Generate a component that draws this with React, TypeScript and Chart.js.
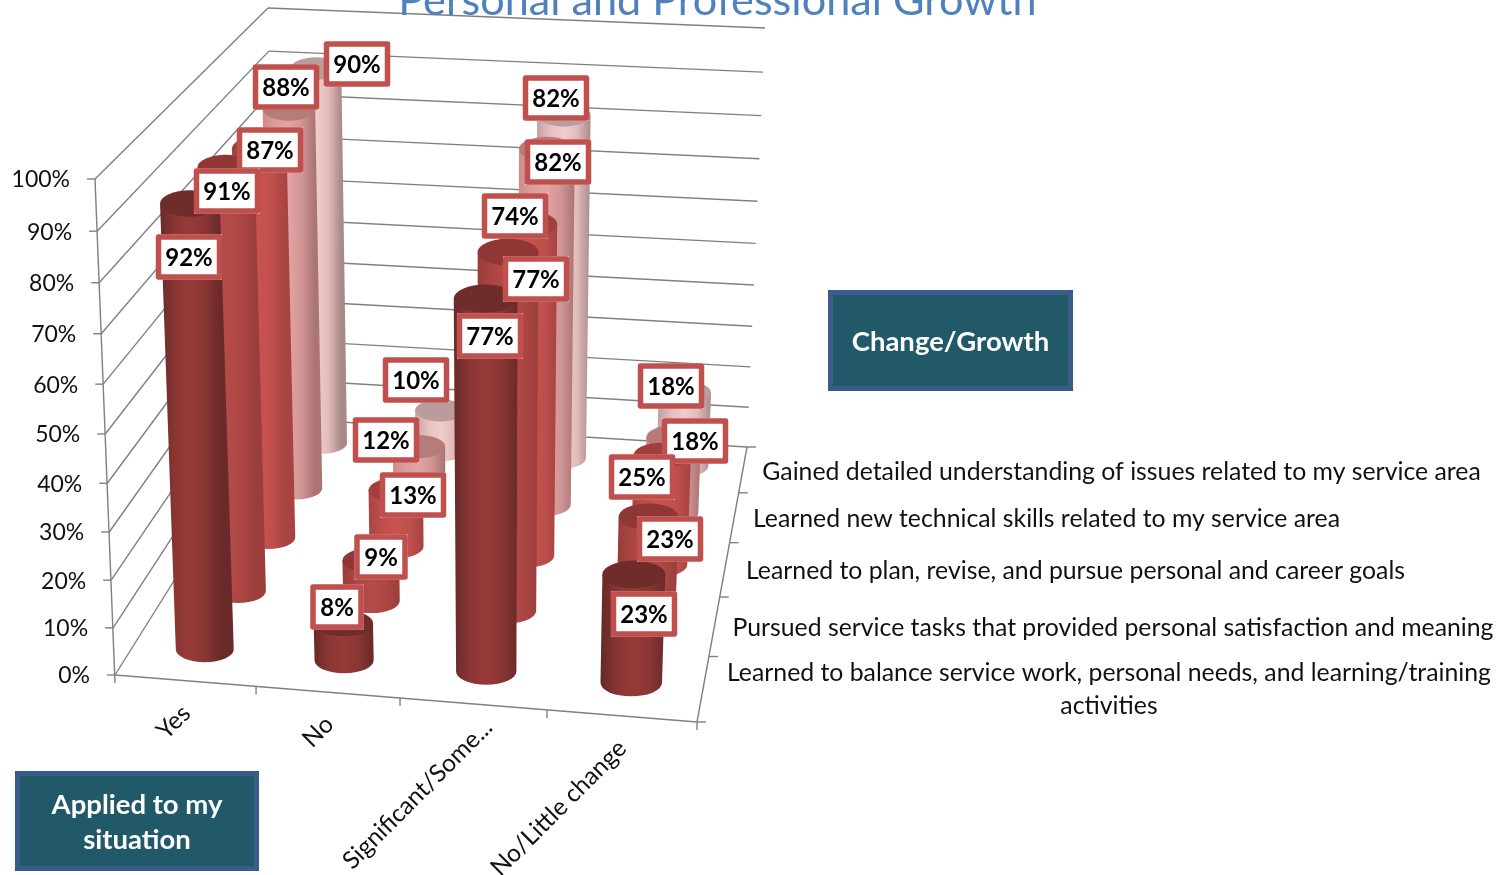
import React, { useEffect, useRef } from "react";
import { Chart, BarController, registerables } from "chart.js";

const categories = ["Yes", "No", "Significant/Some...", "No/Little change"];
// front to back
const seriesNames = [
  "Learned to balance service work, personal needs, and learning/training activities",
  "Pursued service tasks that provided personal satisfaction and meaning",
  "Learned to plan, revise, and pursue personal and career goals",
  "Learned new technical skills related to my service area",
  "Gained detailed understanding of issues related to my service area",
];
const balanceValues = [92, 8, 77, 23];
const pursuedValues = [91, 9, 77, 23];
const planValues = [87, 13, 74, 25];
const technicalValues = [88, 12, 82, 18];
const gainedValues = [90, 10, 82, 18];
const seriesValues = [balanceValues, pursuedValues, planValues, technicalValues, gainedValues];
const valueTicks = [0, 10, 20, 30, 40, 50, 60, 70, 80, 90, 100];
const titleText = "Personal and Professional Growth";
const changeBoxText = ["Change/Growth"];
const appliedBoxText = ["Applied to my", "situation"];

const FONT = "Lato";
// [left edge, inner left, middle, inner right, right edge, cap]
const seriesColors = [
  ["#672a29", "#8a3634", "#963a38", "#8a3634", "#6a2a29", "#702c2b"],
  ["#983c3a", "#ac4744", "#b54b48", "#ac4744", "#9a3d3b", "#8f3734"],
  ["#a84442", "#bf4f4c", "#c8524f", "#bf4f4c", "#a74341", "#a23f3c"],
  ["#cf8b8a", "#dd9d9c", "#e2a3a2", "#cf9594", "#a97472", "#b57c7a"],
  ["#c4a2a1", "#e4c0bf", "#f0cccb", "#e0bcbb", "#a88a89", "#b99c9b"],
];
// label box centres, per series (front to back), per category
const labelCenters = [
  [[189, 257], [337, 607], [490, 336], [644, 614]],
  [[227, 191], [381, 557], [536, 279], [670, 539]],
  [[270, 150], [413, 495], [515, 216], [642, 477]],
  [[286, 87], [386, 440], [558, 162], [695, 441]],
  [[357, 64], [416, 380], [556, 98], [671, 386]],
];
const seriesLabelLayout = [
  { lines: ["Learned to balance service work, personal needs, and learning/training", "activities"], x: 1109, y: 673 },
  { lines: [seriesNames[1]], x: 1113, y: 628 },
  { lines: [seriesNames[2]], x: 1075.5, y: 571 },
  { lines: [seriesNames[3]], x: 1046.5, y: 519 },
  { lines: [seriesNames[4]], x: 1121.5, y: 472 },
];
const categoryLabelEnds = [[180, 703], [323, 714], [482, 717], [616, 738]];

// projection frame of the 3-D box
const floorCorners = [[115, 675], [697, 722], [747, 447], [276, 418]];
const topCorners = [[95, 179], [716, 219], [765, 28], [268, 8]];
const PERSPECTIVE_K = 1.058;
const RADIUS_U = 0.0525;
const ELLIPSE = 0.44;
const COLUMN_SHIFT_U = 0.003;

function homography(q: number[][]) {
  const [[x0, y0], [x1, y1], [x2, y2], [x3, y3]] = q;
  const dx1 = x1 - x2, dx2 = x3 - x2, sx = x0 - x1 + x2 - x3;
  const dy1 = y1 - y2, dy2 = y3 - y2, sy = y0 - y1 + y2 - y3;
  const den = dx1 * dy2 - dx2 * dy1;
  const g = (sx * dy2 - dx2 * sy) / den;
  const h = (dx1 * sy - sx * dy1) / den;
  const a = x1 - x0 + g * x1, b = x3 - x0 + h * x3;
  const d = y1 - y0 + g * y1, e = y3 - y0 + h * y3;
  return (u: number, v: number) => {
    const t = g * u + h * v + 1;
    return [(a * u + b * v + x0) / t, (d * u + e * v + y0) / t];
  };
}
const floorH = homography(floorCorners);
const topH = homography(topCorners);
function project(u: number, v: number, w: number) {
  const f = floorH(u, v), t = topH(u, v);
  const s = w / (w + (1 - w) * PERSPECTIVE_K);
  return { x: f[0] + (t[0] - f[0]) * s, y: f[1] + (t[1] - f[1]) * s };
}

class CylinderController extends BarController {
  static id = "cylinder";
  static defaults = { ...BarController.defaults };
  draw() {
    const chart = this.chart as any;
    const ctx = chart.ctx as CanvasRenderingContext2D;
    const xs = chart.scales.x, ys = chart.scales.y;
    const n = chart.data.datasets.length;
    const v = (this.index + 0.5) / n;
    const colors = seriesColors[this.index];
    const data = this.getDataset().data as number[];
    data.forEach((val, i) => {
      const u = (xs.getPixelForValue(i) - xs.left) / xs.width + COLUMN_SHIFT_U;
      const w = (ys.bottom - ys.getPixelForValue(val)) / ys.height;
      const p0 = project(u, v, 0), p1 = project(u, v, w);
      const half = (ww: number) => (project(u + RADIUS_U, v, ww).x - project(u - RADIUS_U, v, ww).x) / 2;
      const r0 = half(0), r1 = half(w);
      const g = ctx.createLinearGradient(p1.x - r1, 0, p1.x + r1, 0);
      g.addColorStop(0, colors[0]);
      g.addColorStop(0.25, colors[1]);
      g.addColorStop(0.5, colors[2]);
      g.addColorStop(0.75, colors[3]);
      g.addColorStop(1, colors[4]);
      ctx.save();
      ctx.fillStyle = g;
      ctx.beginPath();
      ctx.moveTo(p1.x - r1, p1.y);
      ctx.lineTo(p0.x - r0, p0.y);
      ctx.ellipse(p0.x, p0.y, r0, r0 * ELLIPSE, 0, Math.PI, 0, true);
      ctx.lineTo(p1.x + r1, p1.y);
      ctx.closePath();
      ctx.fill();
      ctx.fillStyle = colors[5];
      ctx.beginPath();
      ctx.ellipse(p1.x, p1.y, r1, r1 * ELLIPSE, 0, 0, Math.PI * 2);
      ctx.fill();
      ctx.restore();
    });
  }
}

function line(ctx: CanvasRenderingContext2D, a: any, b: any) {
  ctx.beginPath();
  ctx.moveTo(a.x, a.y);
  ctx.lineTo(b.x, b.y);
  ctx.stroke();
}

function box(ctx: CanvasRenderingContext2D, x: number, y: number, w: number, h: number, lines: string[], lineGap: number) {
  ctx.fillStyle = "#215968";
  ctx.fillRect(x, y, w, h);
  ctx.strokeStyle = "#385d8a";
  ctx.lineWidth = 5;
  ctx.lineJoin = "round";
  ctx.strokeRect(x + 2.5, y + 2.5, w - 5, h - 5);
  ctx.fillStyle = "#ffffff";
  ctx.font = `bold 27.5px ${FONT}`;
  ctx.textAlign = "center";
  ctx.textBaseline = "middle";
  const start = y + h / 2 + 1.5 - ((lines.length - 1) * lineGap) / 2;
  lines.forEach((l, i) => ctx.fillText(l, x + w / 2, start + i * lineGap));
}

const framePlugin = {
  id: "frame",
  beforeDatasetsDraw(chart: any) {
    const ctx = chart.ctx as CanvasRenderingContext2D;
    const ys = chart.scales.y;
    ctx.save();
    ctx.fillStyle = "#ffffff";
    ctx.fillRect(0, 0, chart.width, chart.height);
    ctx.strokeStyle = "#808080";
    ctx.lineWidth = 1.4;
    valueTicks.forEach((t) => {
      const w = (ys.bottom - ys.getPixelForValue(t)) / ys.height;
      const a = project(0, 0, w), b = project(0, 1, w), c = project(1, 1, w);
      line(ctx, a, b);
      line(ctx, b, c);
      line(ctx, { x: a.x - 8, y: a.y }, a);
      ctx.fillStyle = "#111111";
      ctx.font = `23px ${FONT}`;
      ctx.textAlign = "right";
      ctx.textBaseline = "middle";
      ctx.fillText(`${t}%`, a.x - 25, a.y + 1);
    });
    // axes
    const fl = project(0, 0, 0), fr = project(1, 0, 0), br = project(1, 1, 0);
    line(ctx, project(0, 0, 1), { x: fl.x, y: fl.y + 8 });
    line(ctx, fl, fr);
    line(ctx, fr, br);
    categories.forEach((_, i) => {
      const p = project((i + 1) / categories.length, 0, 0);
      line(ctx, p, { x: p.x, y: p.y + 8 });
    });
    for (let j = 0; j <= seriesNames.length; j++) {
      const p = project(1, j / seriesNames.length, 0);
      line(ctx, p, { x: p.x + 9, y: p.y });
    }
    ctx.restore();
  },
  afterDatasetsDraw(chart: any) {
    const ctx = chart.ctx as CanvasRenderingContext2D;
    ctx.save();
    // data labels, back to front
    for (let j = seriesValues.length - 1; j >= 0; j--) {
      seriesValues[j].forEach((val, i) => {
        const [cx, cy] = labelCenters[j][i];
        const text = `${val}%`;
        const w = val < 10 ? 53 : 66, h = 45;
        ctx.fillStyle = "#ffffff";
        ctx.fillRect(cx - w / 2, cy - h / 2, w, h);
        ctx.strokeStyle = "#c0504d";
        ctx.lineWidth = 5.5;
        ctx.lineJoin = "round";
        ctx.strokeRect(cx - w / 2 + 2.5, cy - h / 2 + 2.5, w - 5, h - 5);
        ctx.fillStyle = "#000000";
        ctx.font = `bold 24px ${FONT}`;
        ctx.textAlign = "center";
        ctx.textBaseline = "middle";
        ctx.fillText(text, cx, cy + 1);
      });
    }
    // series labels
    ctx.fillStyle = "#111111";
    ctx.font = `24.8px ${FONT}`;
    ctx.textAlign = "center";
    ctx.textBaseline = "middle";
    seriesLabelLayout.forEach((s) => {
      s.lines.forEach((l, i) => ctx.fillText(l, s.x, s.y + i * 33));
    });
    // category labels
    categories.forEach((c, i) => {
      const [x, y] = categoryLabelEnds[i];
      ctx.save();
      ctx.translate(x, y);
      ctx.rotate(-Math.PI / 4);
      ctx.textAlign = "right";
      ctx.textBaseline = "middle";
      ctx.font = `24.5px ${FONT}`;
      ctx.fillStyle = "#111111";
      ctx.fillText(c, 0, 9);
      ctx.restore();
    });
    // title
    ctx.fillStyle = "#4f81bd";
    ctx.font = `43.2px ${FONT}`;
    ctx.textAlign = "center";
    ctx.textBaseline = "alphabetic";
    ctx.fillText(titleText, 717.5, 15);
    box(ctx, 828, 290, 245, 101, changeBoxText, 35);
    box(ctx, 15, 771, 244, 100, appliedBoxText, 35);
    ctx.restore();
  },
};

Chart.register(...registerables, CylinderController);

export default function App() {
  const ref = useRef<HTMLCanvasElement>(null);
  useEffect(() => {
    const chart = new Chart(ref.current as HTMLCanvasElement, {
      type: "cylinder" as any,
      data: {
        labels: categories,
        datasets: seriesNames.map((name, j) => ({ label: name, data: seriesValues[j], order: j })),
      },
      options: {
        animation: false,
        responsive: false,
        layout: { padding: 0 },
        scales: {
          x: { type: "category", display: false, offset: true },
          y: { type: "linear", display: false, min: 0, max: 100, ticks: { stepSize: 10 } },
        },
        plugins: { legend: { display: false }, tooltip: { enabled: false }, title: { display: false } },
      } as any,
      plugins: [framePlugin],
    });
    return () => chart.destroy();
  }, []);
  return (
    <div style={{ position: "fixed", left: 0, top: 0, width: 1503, height: 875, background: "#fff", overflow: "hidden" }}>
      <canvas ref={ref} width={1503} height={875} style={{ display: "block" }} />
    </div>
  );
}
